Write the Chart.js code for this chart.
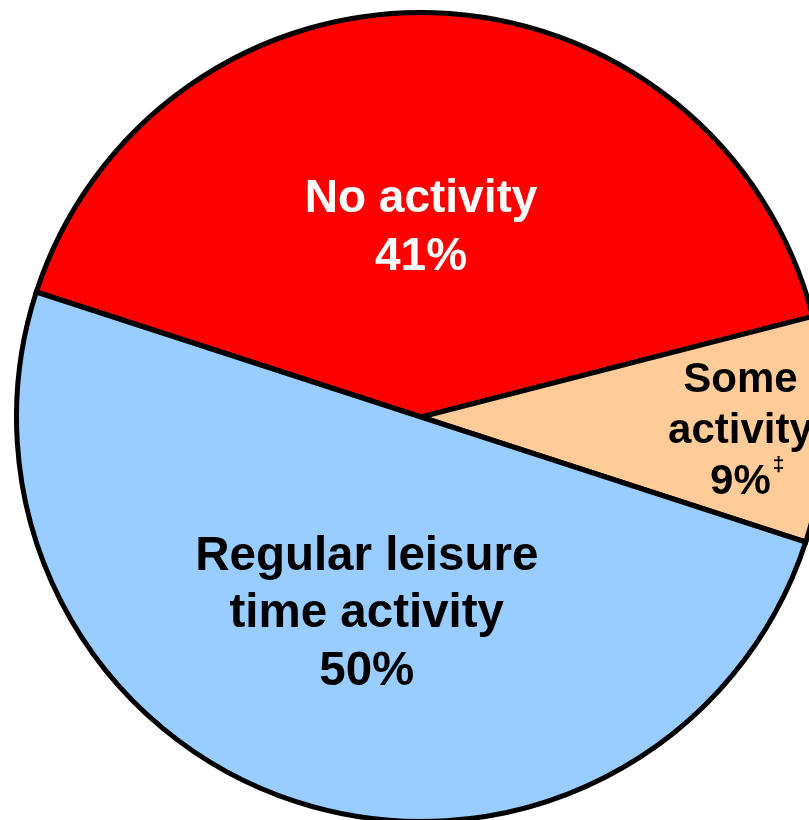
<!DOCTYPE html>
<html>
<head>
<meta charset="utf-8">
<script src="https://cdn.jsdelivr.net/npm/chart.js@4.4.0/dist/chart.umd.min.js"></script>
<style>
  html, body { margin: 0; padding: 0; overflow: hidden; background: #fff; }
  body { width: 809px; height: 820px; position: relative; }
  #pie-wrap { position: absolute; left: 14px; top: 10px; width: 814px; height: 814px; }
</style>
</head>
<body>
<div id="pie-wrap"><canvas id="pie-chart"></canvas></div>
<script>
const categories = ["No activity", "Some activity", "Regular leisure time activity"];
const shares = [41, 9, 50];
const sliceColors = ["#ff0000", "#ffcc99", "#99ccff"];

// label text per slice, drawn on top of the arcs
const labelLines = [
  ["No activity", "41%"],
  ["Some", "activity", "9%"],
  ["Regular leisure", "time activity", "50%"],
];
const labelColors = ["#ffffff", "#000000", "#000000"];
const labelFontSizes = [46, 42, 47.5];
const labelLineHeights = [58, 51, 57.5];
// where to put each block: fraction of radius along the mid angle + small nudge
const labelRadius = [0.435, 0.79, 0.546];
const labelNudge = [[-5.5, 0], [0, 16], [14, 0]];
const footnoteMark = "\u2021";

const sliceLabels = {
  id: "sliceLabels",
  afterDatasetsDraw(chart) {
    const ctx = chart.ctx;
    const arcs = chart.getDatasetMeta(0).data;

    arcs.forEach((arc, i) => {
      const { x, y, startAngle, endAngle, outerRadius } = arc.getProps(
        ["x", "y", "startAngle", "endAngle", "outerRadius"],
        true
      );
      const mid = (startAngle + endAngle) / 2;
      const ax = x + Math.cos(mid) * outerRadius * labelRadius[i] + labelNudge[i][0];
      const ay = y + Math.sin(mid) * outerRadius * labelRadius[i] + labelNudge[i][1];
      const lines = labelLines[i];
      const lh = labelLineHeights[i];

      ctx.save();
      ctx.fillStyle = labelColors[i];
      ctx.font = `bold ${labelFontSizes[i]}px "Liberation Sans", Arial, sans-serif`;
      ctx.textAlign = "center";
      ctx.textBaseline = "alphabetic";

      lines.forEach((line, j) => {
        const ly = ay + (j - (lines.length - 1) / 2) * lh;
        ctx.fillText(line, ax, ly);

        // the small double dagger after "9%"
        if (i === 1 && j === lines.length - 1) {
          const w = ctx.measureText(line).width;
          ctx.save();
          ctx.font = `bold 21px "Liberation Sans", Arial, sans-serif`;
          ctx.textAlign = "left";
          ctx.fillText(footnoteMark, ax + w / 2 + 2, ly - 23);
          ctx.restore();
        }
      });
      ctx.restore();
    });
  },
};

new Chart(document.getElementById("pie-chart"), {
  type: "pie",
  data: {
    labels: categories,
    datasets: [
      {
        data: shares,
        backgroundColor: sliceColors,
        borderColor: "#000000",
        borderWidth: 5,
        borderJoinStyle: "miter",
      },
    ],
  },
  options: {
    responsive: true,
    maintainAspectRatio: false,
    animation: false,
    rotation: -72,
    layout: { padding: 0 },
    plugins: {
      legend: { display: false },
      tooltip: { enabled: false },
    },
  },
  plugins: [sliceLabels],
});
</script>
</body>
</html>
